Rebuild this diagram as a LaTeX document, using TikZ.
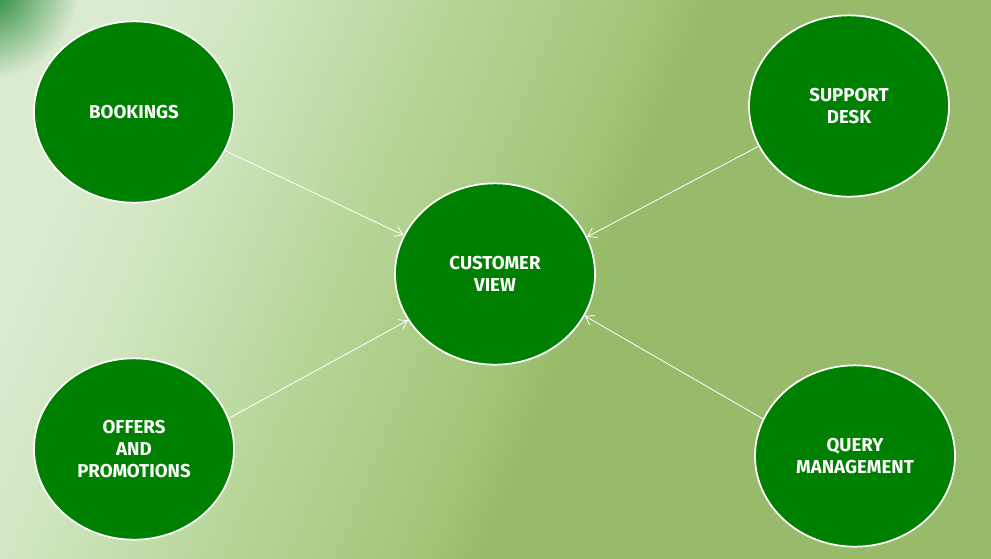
\documentclass[tikz,border=0pt]{standalone}
\usepackage{fontspec}
\setmainfont{Fira Sans}
\usetikzlibrary{arrows.meta,shapes.geometric}
\definecolor{bgA}{HTML}{DBEBD0}
\definecolor{bgB}{HTML}{D0E6C0}
\definecolor{bgC}{HTML}{B5D596}
\definecolor{bgD}{HTML}{A8CB82}
\definecolor{bgE}{HTML}{A0C576}
\definecolor{bgF}{HTML}{97BB6A}
\definecolor{nodegreen}{HTML}{008000}
\definecolor{cornergreen}{HTML}{137E2A}
\pgfdeclarehorizontalshading{bgshade}{100bp}{color(0bp)=(bgA); color(39.6bp)=(bgA); color(42.6bp)=(bgB); color(47.9bp)=(bgC); color(51.2bp)=(bgD); color(52.9bp)=(bgE); color(54.3bp)=(bgF); color(100bp)=(bgF)}
\begin{document}
\begin{tikzpicture}[x=0.75pt,y=-0.75pt,
  bubble/.style={ellipse,draw=white,line width=1.3pt,fill=nodegreen,text=white,
    minimum width=150pt,minimum height=136pt,align=center,
    font=\fontsize{14}{16.5}\selectfont\bfseries},
  link/.style={draw=white,line width=0.6pt,-{Straight Barb[length=6pt,width=8pt]}}]
\useasboundingbox (0,0) rectangle (991,558);
\begin{scope}[transform canvas={rotate=-22.4}]
\shade[shading=bgshade] (-400,-1000) rectangle (1400,1000);
\end{scope}
\shade[inner color=cornergreen,outer color=bgA] (-15,-15) circle (95);
\node[bubble] (book) at (134,112) {BOOKINGS};
\node[bubble] (supp) at (849,106) {SUPPORT\\DESK};
\node[bubble] (cust) at (495,274) {CUSTOMER\\VIEW};
\node[bubble] (offr) at (134,449) {OFFERS\\AND\\PROMOTIONS};
\node[bubble] (quer) at (855,456) {QUERY\\MANAGEMENT};
\path[link] (book.-23) -- (cust.157);
\path[link] (supp.-156) -- (cust.22);
\path[link] (offr.18) -- (cust.-152);
\path[link] (quer.158) -- (cust.-25);
\end{tikzpicture}
\end{document}
